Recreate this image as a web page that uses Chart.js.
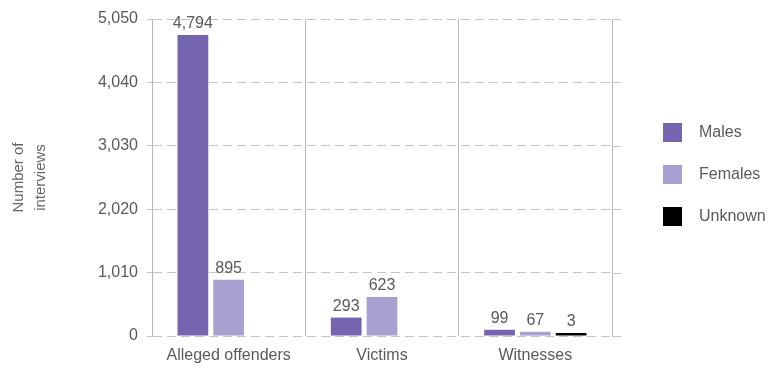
<!DOCTYPE html>
<html>
<head>
<meta charset="utf-8">
<script src="https://cdn.jsdelivr.net/npm/chart.js@4"></script>
<style>
  html, body { margin: 0; padding: 0; background: #fff; }
  #wrap { width: 773px; height: 369px; position: relative; }
</style>
</head>
<body>
<div id="wrap"><canvas id="chart"></canvas></div>
<script>
// Interviews by role and gender
const categories = ['Alleged offenders', 'Victims', 'Witnesses'];
const males = [4794, 293, 99];
const females = [895, 623, 67];
const unknown = [null, null, 3];
const yTicks = [0, 1010, 2020, 3030, 4040, 5050];

const FONT = '"Liberation Sans", Arial, sans-serif';
const TEXT = '#5a5a5a';

// numbers over each bar
const barLabels = {
    id: 'barLabels',
    afterDatasetsDraw(chart) {
        const ctx = chart.ctx;
        ctx.save();
        ctx.font = '16px ' + FONT;
        ctx.fillStyle = TEXT;
        ctx.textAlign = 'center';
        ctx.textBaseline = 'bottom';
        chart.data.datasets.forEach((ds, i) => {
            chart.getDatasetMeta(i).data.forEach((bar, j) => {
                const v = ds.data[j];
                if (v === null) return;
                ctx.fillText(v.toLocaleString('en-US'), bar.x, bar.y - 3);
            });
        });
        ctx.restore();
    }
};

// dashed grid lines run a little past the right edge
const gridTails = {
    id: 'gridTails',
    beforeDatasetsDraw(chart) {
        const ctx = chart.ctx;
        const y = chart.scales.y;
        const right = chart.chartArea.right;
        ctx.save();
        ctx.strokeStyle = '#c4c4c4';
        ctx.lineWidth = 1;
        ctx.setLineDash([9, 5]);
        yTicks.forEach(t => {
            const py = Math.round(y.getPixelForValue(t)) + 0.5;
            ctx.beginPath();
            ctx.moveTo(right, py);
            ctx.lineTo(right + 14, py);
            ctx.stroke();
        });
        ctx.restore();
    }
};

// legend boxes on the right
const sideLegend = {
    id: 'sideLegend',
    afterDraw(chart) {
        const ctx = chart.ctx;
        ctx.save();
        ctx.font = '16px ' + FONT;
        ctx.textBaseline = 'middle';
        chart.data.datasets.forEach((ds, i) => {
            const top = 123 + i * 42;
            ctx.fillStyle = ds.backgroundColor;
            ctx.fillRect(663, top, 19, 19);
            ctx.fillStyle = TEXT;
            ctx.fillText(ds.label, 699, top + 10);
        });
        ctx.restore();
    }
};

new Chart(document.getElementById('chart'), {
    type: 'bar',
    data: {
        labels: categories,
        datasets: [
            { label: 'Males', data: males, backgroundColor: '#7565ae' },
            { label: 'Females', data: females, backgroundColor: '#a99fd1' },
            { label: 'Unknown', data: unknown, backgroundColor: '#000000', minBarLength: 3 }
        ]
    },
    options: {
        responsive: true,
        maintainAspectRatio: false,
        animation: false,
        categoryPercentage: 0.7,
        barPercentage: 0.86,
        layout: { padding: { top: 19, right: 161, bottom: 0, left: 0 } },
        plugins: {
            legend: { display: false },
            tooltip: { enabled: false }
        },
        scales: {
            x: {
                afterFit(scale) { scale.height = 33; },
                grid: { color: '#b8b8b8', drawTicks: false, offset: true },
                border: { display: false },
                ticks: { color: TEXT, font: { family: FONT, size: 16 }, padding: 10 }
            },
            y: {
                min: 0,
                max: 5050,
                afterFit(scale) { scale.width = 152; },
                afterBuildTicks(scale) { scale.ticks = yTicks.map(v => ({ value: v })); },
                grid: { color: '#c4c4c4', tickLength: 5 },
                border: { display: true, color: '#b8b8b8', dash: [9, 5] },
                ticks: {
                    color: TEXT,
                    font: { family: FONT, size: 16 },
                    padding: 9,
                    callback: v => v.toLocaleString('en-US')
                },
                title: {
                    display: true,
                    text: ['Number of', 'interviews'],
                    color: '#666',
                    font: { family: FONT, size: 15, lineHeight: 1.45 },
                    padding: { top: 8, bottom: 0 }
                }
            }
        }
    },
    plugins: [barLabels, gridTails, sideLegend]
});
</script>
</body>
</html>
